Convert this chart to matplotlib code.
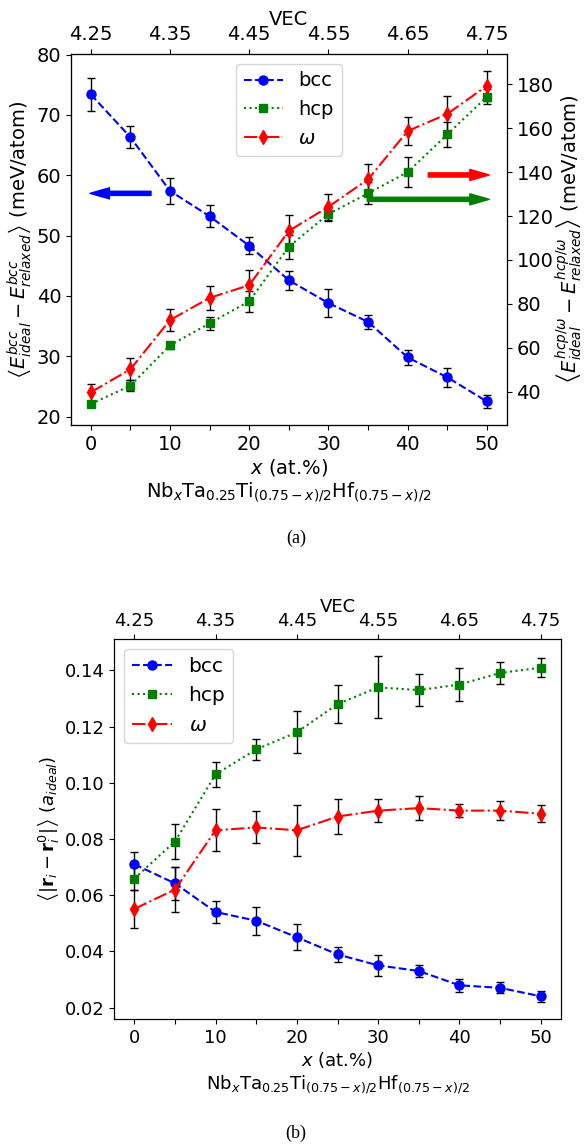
import numpy as np
import matplotlib
matplotlib.use("Agg")
import matplotlib.pyplot as plt

# composition x (at.%) and valence electron count on the top axis
x = [0, 5, 10, 15, 20, 25, 30, 35, 40, 45, 50]
vec_pos = [0, 10, 20, 30, 40, 50]
vec_labels = ["4.25", "4.35", "4.45", "4.55", "4.65", "4.75"]
phases = ["bcc", "hcp", r"$\omega$"]

# (a) relaxation energy, meV/atom
a_bcc = [73.4, 66.3, 57.4, 53.2, 48.3, 42.6, 38.8, 35.7, 29.8, 26.5, 22.5]
a_bcc_err = [2.8, 1.8, 2.1, 1.8, 1.4, 1.6, 2.35, 1.2, 1.2, 1.6, 1.1]
a_hcp = [34.4, 42.7, 61.1, 71.1, 81.2, 106.0, 120.9, 130.3, 140.0, 157.2, 174.3]
a_hcp_err = [1.5, 2.4, 1.7, 2.8, 4.8, 5.5, 3.0, 5.0, 7.0, 5.7, 3.5]
a_omega = [39.7, 50.2, 72.6, 82.7, 88.5, 113.2, 124.2, 136.7, 158.7, 166.5, 179.3]
a_omega_err = [3.8, 5.0, 5.1, 5.6, 6.8, 7.3, 5.8, 7.0, 6.3, 8.3, 6.8]

# (b) mean atomic displacement, a_ideal
b_bcc = [0.0710, 0.0642, 0.0540, 0.0509, 0.0450, 0.0389, 0.0350, 0.0330, 0.0279, 0.0270, 0.0240]
b_bcc_err = [0.0044, 0.006, 0.0038, 0.005, 0.0046, 0.0028, 0.0037, 0.002, 0.0024, 0.002, 0.002]
b_hcp = [0.0659, 0.0791, 0.1030, 0.1119, 0.1180, 0.128, 0.134, 0.133, 0.135, 0.1391, 0.141]
b_hcp_err = [0.004, 0.0064, 0.0045, 0.0036, 0.0075, 0.0067, 0.011, 0.0058, 0.006, 0.0038, 0.0034]
b_omega = [0.0551, 0.062, 0.0831, 0.0841, 0.0831, 0.088, 0.0901, 0.091, 0.0901, 0.0901, 0.0890]
b_omega_err = [0.0067, 0.008, 0.0074, 0.0057, 0.009, 0.0064, 0.0042, 0.0042, 0.0024, 0.0035, 0.003]

xlabel = "$x$ (at.%)\nNb$_x$Ta$_{0.25}$Ti$_{(0.75-x)/2}$Hf$_{(0.75-x)/2}$"

styles = [
    dict(color="blue", marker="o", ls="--", ms=6.5),
    dict(color="green", marker="s", ls=":", ms=6),
    dict(color="red", marker="d", ls="-.", ms=7),
]
ebkw = dict(ecolor="k", elinewidth=1, capsize=3, capthick=1, lw=1.5)


def bottom_ticks(ax, fs):
    ax.set_xlim(-2.5, 52.5)
    ax.set_xticks(x)
    ax.set_xticklabels([str(v) if v % 10 == 0 else "" for v in x], fontsize=fs)
    ax.set_xlabel(xlabel, fontsize=fs, labelpad=2)


def top_axis(ax, fs):
    top = ax.twiny()
    top.set_xlim(ax.get_xlim())
    top.set_xticks(vec_pos)
    top.set_xticklabels(vec_labels, fontsize=fs)
    top.set_xlabel("VEC", fontsize=fs, labelpad=0)
    return top


fig = plt.figure(figsize=(5.87, 11.46), dpi=100)

# ---- panel (a)
ax = fig.add_axes([71 / 587, 1 - 425 / 1146, 435.7 / 587, 371 / 1146])
ax2 = ax.twinx()
h1 = ax.errorbar(x, a_bcc, yerr=a_bcc_err, **styles[0], **ebkw)
h2 = ax2.errorbar(x, a_hcp, yerr=a_hcp_err, **styles[1], **ebkw)
h3 = ax2.errorbar(x, a_omega, yerr=a_omega_err, **styles[2], **ebkw)
bottom_ticks(ax, 14)
ax.set_ylim(18.6, 80.1)
ax.set_yticks([20, 30, 40, 50, 60, 70, 80])
ax.tick_params(labelsize=14)
ax2.set_ylim(24.8, 193.8)
ax2.set_yticks([40, 60, 80, 100, 120, 140, 160, 180])
ax2.tick_params(labelsize=14)
ax.set_ylabel(r"$\left\langle E^{bcc}_{ideal} - E^{bcc}_{relaxed}\right\rangle$ (meV/atom)",
              fontsize=14, labelpad=2)
ax2.set_ylabel(r"$\left\langle E^{hcp/\omega}_{ideal} - E^{hcp/\omega}_{relaxed}\right\rangle$ (meV/atom)",
               fontsize=14, labelpad=0)
top_axis(ax, 14)
ax2.legend([h1[0], h2[0], h3[0]], phases, loc="upper center", fontsize=14)

arrow = dict(width=3, headwidth=8, headlength=14)
ax.annotate("", xy=(-0.1, 57.0), xytext=(7.6, 57.0),
            arrowprops=dict(color="blue", **arrow))
ax2.annotate("", xy=(50.3, 138.7), xytext=(42.6, 138.7),
             arrowprops=dict(color="red", **arrow))
ax2.annotate("", xy=(50.3, 127.6), xytext=(34.9, 127.6),
             arrowprops=dict(color="green", **arrow))

# ---- panel (b)
bx = fig.add_axes([114 / 587, 1 - 1019.3 / 1146, 447 / 587, 380 / 1146])
g1 = bx.errorbar(x, b_bcc, yerr=b_bcc_err, **styles[0], **ebkw)
g2 = bx.errorbar(x, b_hcp, yerr=b_hcp_err, **styles[1], **ebkw)
g3 = bx.errorbar(x, b_omega, yerr=b_omega_err, **styles[2], **ebkw)
bottom_ticks(bx, 13)
bx.set_ylim(0.0158, 0.1511)
bx.set_yticks([0.02, 0.04, 0.06, 0.08, 0.10, 0.12, 0.14])
bx.set_yticklabels(["0.02", "0.04", "0.06", "0.08", "0.10", "0.12", "0.14"])
bx.tick_params(labelsize=13)
bx.set_ylabel(r"$\left\langle |\mathbf{r}_i - \mathbf{r}_i^0| \right\rangle$ ($a_{ideal}$)",
              fontsize=13, labelpad=2)
top_axis(bx, 13)
bx.legend([g1[0], g2[0], g3[0]], phases, loc="upper left", fontsize=14.5)

fig.text(0.504, 1 - 538 / 1146, "(a)", family="Liberation Serif", fontsize=13,
         ha="center", va="center")
fig.text(0.504, 1 - 1133 / 1146, "(b)", family="Liberation Serif", fontsize=13,
         ha="center", va="center")

fig.savefig("out.png", dpi=100)
